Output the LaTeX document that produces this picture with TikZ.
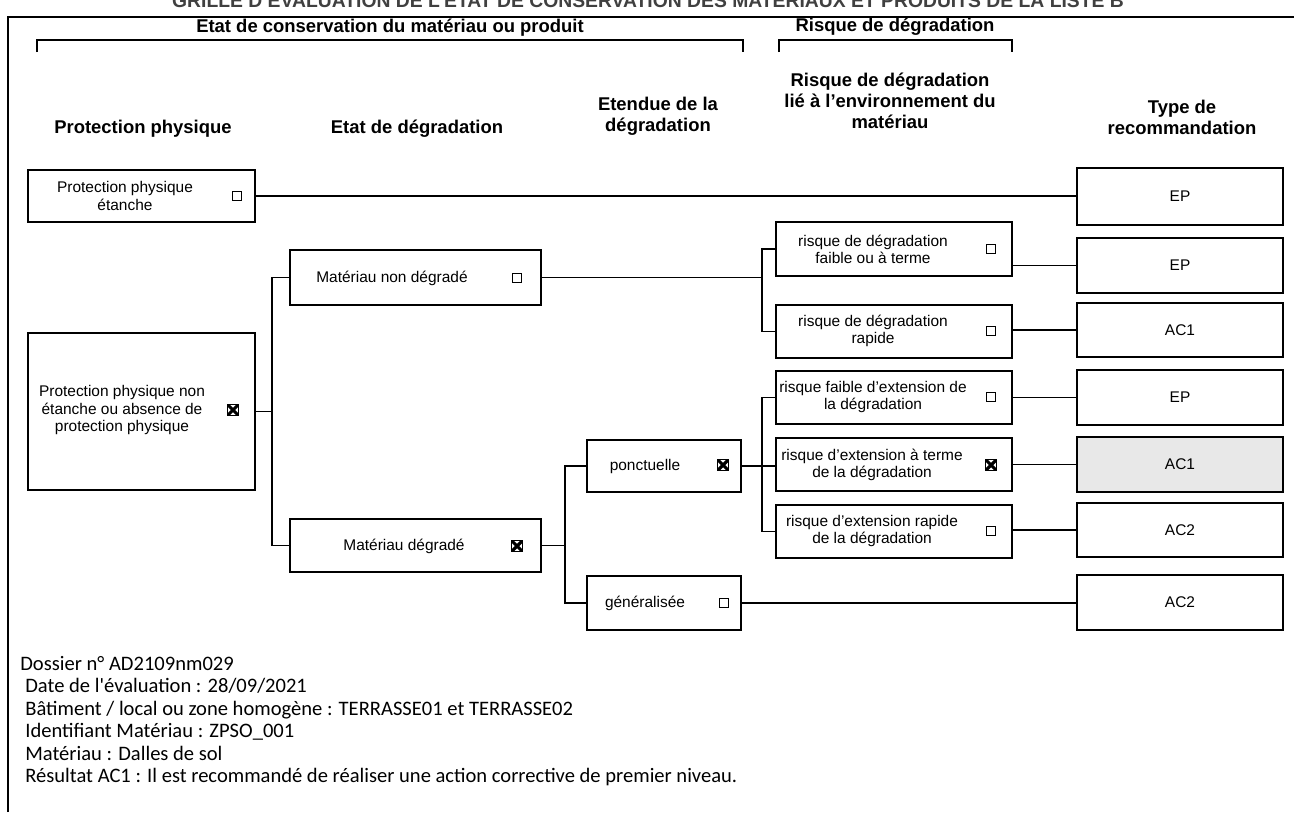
\documentclass[tikz,border=0pt]{standalone}
\usepackage{fontspec}
\setmainfont{Liberation Sans}
\newfontfamily\calfont{Carlito}
\usetikzlibrary{calc}
\newdimen\pxu \pxu=0.02cm
\newcommand\mkbox[6][]{\node[box,#1,minimum width={(#5-#3)*\pxu},minimum height={(#6-#4)*\pxu}] (#2) at ({(#3+#5)/2},{(#4+#6)/2}) {};}
\begin{document}
\begin{tikzpicture}[x=0.02cm,y=-0.02cm,
  box/.style={draw,line width=1.1pt,inner sep=0pt},
  txt/.style={align=center,font=\fontsize{8.8}{9.8}\selectfont,inner sep=0pt},
  hd/.style={align=center,font=\fontsize{10.5}{12}\selectfont\bfseries,inner sep=0pt},
  chk/.style={draw,line width=0.8pt,minimum size=9\pxu,inner sep=0pt},
  xchk/.style={draw,line width=0.6pt,minimum size=11\pxu,inner sep=0pt,
    path picture={\draw[line width=1.8pt] (path picture bounding box.north west)--(path picture bounding box.south east) (path picture bounding box.north east)--(path picture bounding box.south west);}},
  wire/.style={line width=1.1pt},
  frame/.style={line width=1.1pt},
  info/.style={anchor=base west,font=\calfont\fontsize{11.7}{13}\selectfont,inner sep=0pt}]
\useasboundingbox (0,0) rectangle (1294,812);
% title (cut by the page edge, as in the scan)
\node[anchor=base,font=\fontsize{11}{13}\selectfont\bfseries,inner sep=0pt,text=black!75] (title) at (648,7) {GRILLE D'EVALUATION DE L'ETAT DE CONSERVATION DES MATERIAUX ET PRODUITS DE LA LISTE B};
% frame
\draw[frame] (8,812) -- (8,17) -- (1294,17);
% top brackets
\node[hd] (etat) at (390,28) {Etat de conservation du matériau ou produit};
\node[hd] (risq) at (895,27) {Risque de dégradation};
\draw[wire] (37,52) -- (37,40) -- (743,40) -- (743,52);
\draw[wire] (779,52) -- (779,40) -- (1012,40) -- (1012,52);
% column headers
\node[hd] (h1) at (143,129) {Protection physique};
\node[hd] (h2) at (417,129) {Etat de dégradation};
\node[hd] (h3) at (658,116) {Etendue de la\\dégradation};
\node[hd] (h4) at (890,101) {Risque de dégradation\\lié à l'environnement du\\matériau};
\node[hd] (h5) at (1182,117) {Type de\\recommandation};
% boxes
\mkbox{b1}{28}{170}{255}{222}
\mkbox{b2}{28}{333}{255}{490}
\mkbox{nd}{290}{250}{541}{305}
\mkbox{dg}{290}{519}{541}{572}
\mkbox{pc}{587}{440}{741}{492}
\mkbox{gn}{587}{576}{741}{630}
\mkbox{r1}{776}{222}{1012}{276}
\mkbox{r2}{776}{305}{1012}{358}
\mkbox{r3}{776}{371}{1012}{424}
\mkbox{r4}{776}{438}{1012}{491}
\mkbox{r5}{776}{505}{1012}{558}
\mkbox{t1}{1077}{168}{1283}{225}
\mkbox{t2}{1077}{238}{1283}{293}
\mkbox{t3}{1077}{303}{1283}{357}
\mkbox{t4}{1077}{370}{1283}{425}
\mkbox[fill=gray!18]{t5}{1077}{437}{1283}{492}
\mkbox{t6}{1077}{503}{1283}{557}
\mkbox{t7}{1077}{575}{1283}{630}
% box texts
\node[txt] (b1t) at (125,196) {Protection physique\\étanche};
\node[chk] (b1c) at (237,196) {};
\node[txt] (b2t) at (122,410) {Protection physique non\\étanche ou absence de\\protection physique};
\node[xchk] (b2c) at (233,410) {};
\node[txt] (ndt) at (392,278) {Matériau non dégradé};
\node[chk] (ndc) at (517,278) {};
\node[txt] (dgt) at (404,546) {Matériau dégradé};
\node[xchk] (dgc) at (517,546) {};
\node[txt] (pct) at (645,466) {ponctuelle};
\node[xchk] (pcc) at (723,465) {};
\node[txt] (gnt) at (645,603) {généralisée};
\node[chk] (gnc) at (724,603) {};
\node[txt] (r1t) at (873,249) {risque de dégradation\\faible ou à terme};
\node[chk] (r1c) at (991,249) {};
\node[txt] (r2t) at (873,331) {risque de dégradation\\rapide};
\node[chk] (r2c) at (991,331) {};
\node[txt] (r3t) at (873,397) {risque faible d'extension de\\la dégradation};
\node[chk] (r3c) at (991,397) {};
\node[txt] (r4t) at (872,465) {risque d'extension à terme\\de la dégradation};
\node[xchk] (r4c) at (991,465) {};
\node[txt] (r5t) at (872,531) {risque d'extension rapide\\de la dégradation};
\node[chk] (r5c) at (991,531) {};
\node[txt] at (t1) {EP};
\node[txt] at (t2) {EP};
\node[txt] at (t3) {AC1};
\node[txt] at (t4) {EP};
\node[txt] at (t5) {AC1};
\node[txt] at (t6) {AC2};
\node[txt] at (t7) {AC2};
% junctions
\coordinate (j1) at (272,0);
\coordinate (j2) at (762,0);
\coordinate (j3) at (565,0);
% connectors
\draw[wire] (b1.east) -- (b1.east -| t1.west);
\draw[wire] (b2.east) -- (b2.east -| j1);
\draw[wire] (nd.west) -- (nd.west -| j1) -- (dg.west -| j1) -- (dg.west);
\draw[wire] (nd.east) -- (nd.east -| j2);
\draw[wire] (r1.west) -- (r1.west -| j2) -- (r2.west -| j2) -- (r2.west);
\draw[wire] (dg.east) -- (dg.east -| j3);
\draw[wire] (pc.west) -- (pc.west -| j3) -- (gn.west -| j3) -- (gn.west);
\draw[wire] (pc.east) -- (pc.east -| r4.west);
\draw[wire] (r3.west) -- (r3.west -| j2) -- (r5.west -| j2) -- (r5.west);
\draw[wire] (r1.east |- t2.west) -- (t2.west);
\draw[wire] (r2.east |- t3.west) -- (t3.west);
\draw[wire] (r3.east |- t4.west) -- (t4.west);
\draw[wire] (r4.east |- t5.west) -- (t5.west);
\draw[wire] (r5.east |- t6.west) -- (t6.west);
\draw[wire] (gn.east) -- (gn.east -| t7.west);
% info text
\node[info] (i1) at (20,670) {Dossier n° AD2109nm029};
\node[info] (i2) at (25,692) {Date de l'évaluation : 28/09/2021};
\node[info] (i3) at (25,715) {Bâtiment / local ou zone homogène : TERRASSE01 et TERRASSE02};
\node[info] (i4) at (25,737) {Identifiant Matériau : ZPSO\_001};
\node[info] (i5) at (25,760) {Matériau : Dalles de sol};
\node[info] (i6) at (25,782) {Résultat AC1 : Il est recommandé de réaliser une action corrective de premier niveau.};
\end{tikzpicture}
\end{document}
